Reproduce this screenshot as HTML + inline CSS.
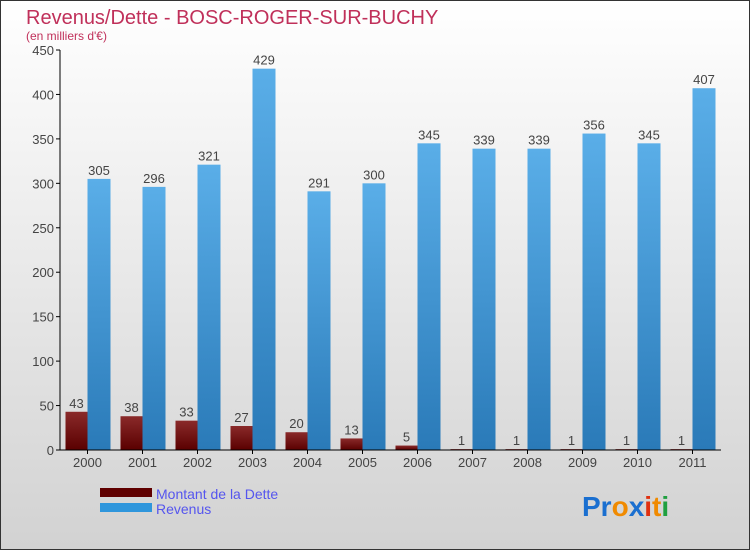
<!DOCTYPE html>
<html><head><meta charset="utf-8"><style>
body{margin:0;}
svg text{font-family:"Liberation Sans",sans-serif;}
</style></head><body>
<svg width="750" height="550" xmlns="http://www.w3.org/2000/svg">
<defs>
<linearGradient id="bg" x1="0" y1="0" x2="0" y2="1"><stop offset="0" stop-color="#ffffff"/><stop offset="1" stop-color="#d2d2d2"/></linearGradient>
<linearGradient id="gd" x1="0" y1="0" x2="0" y2="1"><stop offset="0" stop-color="#8a2a2a"/><stop offset="1" stop-color="#5a0000"/></linearGradient>
<linearGradient id="gr" x1="0" y1="0" x2="0" y2="1"><stop offset="0" stop-color="#5aaee8"/><stop offset="1" stop-color="#2a7ab8"/></linearGradient>
</defs>
<rect x="0.5" y="0.5" width="749" height="549" fill="url(#bg)" stroke="#333"/>
<text x="26" y="24" font-size="20" fill="#c0305a">Revenus/Dette - BOSC-ROGER-SUR-BUCHY</text>
<text x="26" y="40" font-size="12" fill="#c0305a">(en milliers d'€)</text>
<g id="plot"></g>
<rect x="100" y="488" width="52" height="9" fill="#600000"/>
<rect x="100" y="503" width="52" height="9" fill="#2f96dc"/>
<text x="156" y="499" font-size="14" fill="#5555ee">Montant de la Dette</text>
<text x="156" y="514" font-size="14" fill="#5555ee">Revenus</text>
<text x="582" y="516" font-size="28" font-weight="bold"><tspan fill="#1a6fd0">Pr</tspan><tspan fill="#f08a00">o</tspan><tspan fill="#1a6fd0">x</tspan><tspan fill="#e03010">i</tspan><tspan fill="#f08a00">t</tspan><tspan fill="#20a040">i</tspan></text>
</svg>
<script>
const years=["2000","2001","2002","2003","2004","2005","2006","2007","2008","2009","2010","2011"];
const dette=[43,38,33,27,20,13,5,1,1,1,1,1];
const revenus=[305,296,321,429,291,300,345,339,339,356,345,407];
const yTicks=[0,50,100,150,200,250,300,350,400,450];
const NS="http://www.w3.org/2000/svg";
const g=document.getElementById('plot');
const x0=60,x1=720,yb=450,yt=50,ymax=450;
const bw=(x1-x0)/years.length;
const y=v=>yb-(v/ymax)*(yb-yt);
function el(t,a,txt){const e=document.createElementNS(NS,t);for(const k in a)e.setAttribute(k,a[k]);if(txt!==undefined)e.textContent=txt;g.appendChild(e);return e;}
yTicks.forEach(t=>{
 const l=el('line',{x1:x0-4,x2:x0,y1:y(t),y2:y(t),stroke:'#000'});
 
 
 const tx=el('text',{x:x0-6,y:y(t)+5,'text-anchor':'end','font-size':13,fill:'#444'},t);
 
 
});
years.forEach((yr,i)=>{
 const c=x0+bw*(i+0.5);
 const d=el('rect',{x:c-22,y:y(dette[i]),width:22,height:yb-y(dette[i]),fill:'url(#gd)'});
 
 
 const r=el('rect',{x:c,y:y(revenus[i]),width:23,height:yb-y(revenus[i]),fill:'url(#gr)'});
 
 
 const dl=el('text',{x:c-11,y:y(dette[i])-4,'text-anchor':'middle','font-size':13,fill:'#444'},dette[i]);
 
 
 const rl=el('text',{x:c+11.5,y:y(revenus[i])-4,'text-anchor':'middle','font-size':13,fill:'#444'},revenus[i]);
 
 
 const tk=el('line',{x1:c,x2:c,y1:yb,y2:yb+4,stroke:'#000'});
 
 
 const xl=el('text',{x:c,y:yb+17,'text-anchor':'middle','font-size':13,fill:'#444'},yr);
 
 
});
const ya=el('line',{x1:x0,x2:x0,y1:yt,y2:yb,stroke:'#000'});


const xa=el('line',{x1:x0,x2:x1+1,y1:yb,y2:yb,stroke:'#000'});


</script>
</body></html>
